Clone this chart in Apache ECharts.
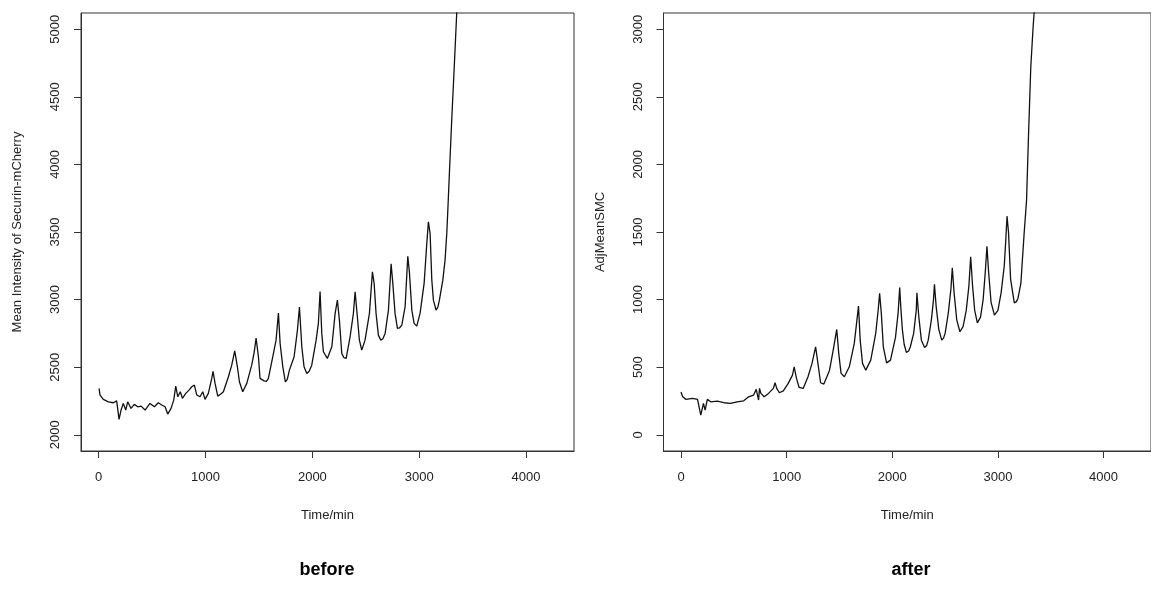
<!DOCTYPE html>
<html>
<head>
<meta charset="utf-8">
<script src="https://cdn.jsdelivr.net/npm/echarts@6/dist/echarts.min.js"></script>
<style>
  html, body { margin: 0; padding: 0; background: #fff; }
  #chart { width: 1151px; height: 596px; }
</style>
</head>
<body>
<div id="chart"></div>
<script>
// Securin-mCherry mean intensity over time, raw and background-adjusted.
const beforeTime = [3, 12, 43, 90, 137, 168, 190, 209, 230, 253, 271, 302, 333, 365, 396, 434, 480, 521, 558, 590,
  621, 646, 677, 702, 721, 740, 764, 783, 815, 845, 871, 895, 918, 948, 974, 995, 1026, 1058, 1070, 1089,
  1114, 1140, 1167, 1214, 1245, 1273, 1298, 1317, 1348, 1386, 1432, 1455, 1473, 1495, 1510, 1548, 1570, 1588, 1629, 1660,
  1682, 1698, 1723, 1747, 1765, 1785, 1829, 1860, 1879, 1901, 1922, 1948, 1970, 1994, 2035, 2056, 2072, 2088, 2103, 2140, 2182, 2213,
  2234, 2253, 2275, 2295, 2316, 2353, 2384, 2400, 2421, 2440, 2462, 2476, 2493, 2534, 2562, 2578, 2596, 2618, 2640, 2660, 2681, 2712, 2737,
  2753, 2774, 2796, 2815, 2837, 2868, 2893, 2908, 2931, 2952, 2977, 3008, 3046, 3071, 3086, 3102, 3118, 3133, 3158, 3175, 3189, 3221,
  3242, 3258, 3270, 3285, 3305, 3328, 3350, 3372];
const beforeValue = [2343, 2294, 2262, 2244, 2237, 2251, 2114, 2183, 2232, 2183, 2244, 2195, 2225, 2207, 2212, 2183, 2232, 2207, 2237, 2220,
  2207, 2153, 2195, 2256, 2360, 2281, 2318, 2269, 2306, 2330, 2355, 2367, 2294, 2281, 2318, 2262, 2306, 2417, 2470, 2380,
  2286, 2300, 2318, 2429, 2515, 2621, 2503, 2392, 2318, 2380, 2515, 2610, 2715, 2577, 2417, 2399, 2395, 2417, 2577, 2700,
  2900, 2676, 2503, 2392, 2410, 2478, 2577, 2774, 2945, 2651, 2503, 2454, 2470, 2515, 2700, 2824, 3060, 2750, 2614, 2565, 2651, 2898,
  2996, 2848, 2602, 2570, 2565, 2725, 2898, 3058, 2873, 2700, 2626, 2640, 2700, 2898, 3205, 3120, 2898, 2737, 2700, 2710, 2750, 2922, 3265,
  3120, 2898, 2787, 2790, 2811, 2947, 3320, 3205, 2922, 2824, 2804, 2898, 3120, 3415, 3575, 3489, 3144, 2996, 2922, 2945, 2996, 3144,
  3292, 3489, 3700, 3980, 4340, 4720, 5100, 5480];

const afterTime = [0, 15, 47, 109, 156, 187, 212, 228, 249, 281, 343, 406, 469, 530, 593, 640, 687, 712, 725, 734,
  743, 756, 787, 828, 874, 890, 906, 931, 968, 1015, 1055, 1071, 1093, 1118, 1156, 1202, 1240, 1274, 1296, 1321,
  1352, 1406, 1446, 1474, 1493, 1515, 1546, 1593, 1640, 1665, 1680, 1696, 1718, 1749, 1796, 1843, 1866, 1880, 1896, 1915,
  1946, 1983, 2030, 2055, 2070, 2080, 2095, 2112, 2133, 2155, 2171, 2202, 2227, 2233, 2250, 2275, 2306, 2325, 2340, 2370, 2390, 2399, 2415,
  2440, 2468, 2485, 2500, 2530, 2555, 2568, 2585, 2610, 2640, 2655, 2670, 2700, 2725, 2742, 2760, 2780, 2805, 2820, 2835, 2860, 2880, 2896,
  2912, 2935, 2967, 2985, 3000, 3030, 3060, 3075, 3086, 3100, 3120, 3155, 3175, 3190, 3217, 3248, 3271, 3290, 3311, 3333, 3342, 3360];
const afterValue = [317, 281, 262, 269, 262, 146, 232, 183, 262, 244, 249, 237, 232, 244, 251, 281, 294, 336, 350, 257,
  343, 306, 281, 306, 343, 385, 343, 311, 325, 380, 441, 503, 417, 350, 343, 429, 528, 651, 528, 385,
  375, 478, 651, 779, 602, 454, 429, 503, 676, 848, 952, 700, 528, 478, 552, 750, 920, 1046, 898, 651,
  532, 552, 720, 900, 1090, 950, 780, 670, 610, 620, 651, 750, 922, 1050, 880, 700, 646, 660, 700, 850, 1000, 1114, 950,
  780, 700, 715, 750, 900, 1080, 1235, 1050, 850, 762, 775, 800, 920, 1100, 1316, 1100, 920, 828, 840, 870, 1000, 1200, 1395,
  1200, 980, 885, 895, 920, 1050, 1250, 1450, 1617, 1500, 1150, 976, 985, 1010, 1120, 1489, 1736, 2229, 2721, 3017, 3116, 3400];

const timeTicks = [0, 1000, 2000, 3000, 4000];
const beforeTicks = [2000, 2500, 3000, 3500, 4000, 4500, 5000];
const afterTicks = [0, 500, 1000, 1500, 2000, 2500, 3000];

const FONT = 'Liberation Sans, Arial, sans-serif';
const INK = '#222';
const plain = v => String(v);

function pairs(xs, ys) {
  return xs.map((x, i) => [x, ys[i]]);
}

function xAxisFor(gridIndex) {
  return {
    gridIndex, type: 'value', min: -166, max: 4449,
    axisLine: { show: true, onZero: false, lineStyle: { color: '#333', width: 1 } },
    axisTick: { show: true, length: 7, inside: false, customValues: timeTicks, lineStyle: { color: '#333', width: 1 } },
    axisLabel: { customValues: timeTicks, formatter: plain, margin: 20, fontSize: 13, color: INK, fontFamily: FONT },
    splitLine: { show: false },
    name: 'Time/min', nameLocation: 'middle', nameGap: 58,
    nameTextStyle: { fontSize: 13, color: INK, fontFamily: FONT }
  };
}

function yAxisFor(gridIndex, min, max, ticks, title) {
  return {
    gridIndex, type: 'value', min, max,
    axisLine: { show: true, onZero: false, lineStyle: { color: '#333', width: 1 } },
    axisTick: { show: true, length: 7, inside: false, customValues: ticks, lineStyle: { color: '#333', width: 1 } },
    axisLabel: { customValues: ticks, formatter: plain, rotate: 90, margin: 19, fontSize: 13, color: INK, fontFamily: FONT },
    splitLine: { show: false },
    name: title, nameLocation: 'middle', nameRotate: 90, nameGap: 57,
    nameTextStyle: { fontSize: 13, color: INK, fontFamily: FONT }
  };
}

const chart = echarts.init(document.getElementById('chart'), null, { renderer: 'canvas' });
chart.setOption({
  animation: false,
  backgroundColor: '#fff',
  grid: [
    { left: 81, top: 13, width: 493, height: 438, show: true, borderColor: '#333', borderWidth: 1, backgroundColor: 'transparent' },
    { left: 663.5, top: 13, width: 493, height: 438, show: true, borderColor: '#333', borderWidth: 1, backgroundColor: 'transparent' }
  ],
  xAxis: [xAxisFor(0), xAxisFor(1)],
  yAxis: [
    yAxisFor(0, 1880, 5120, beforeTicks, 'Mean Intensity of Securin-mCherry'),
    yAxisFor(1, -120, 3120, afterTicks, 'AdjMeanSMC')
  ],
  series: [
    { type: 'line', xAxisIndex: 0, yAxisIndex: 0, data: pairs(beforeTime, beforeValue), showSymbol: false, clip: true,
      lineStyle: { color: '#111', width: 1.3 } },
    { type: 'line', xAxisIndex: 1, yAxisIndex: 1, data: pairs(afterTime, afterValue), showSymbol: false, clip: true,
      lineStyle: { color: '#111', width: 1.3 } }
  ],
  graphic: [
    { type: 'text', x: 327, y: 570, style: { text: 'before', x: 0, y: 0, align: 'center', verticalAlign: 'middle', font: 'bold 18px ' + FONT, fill: '#000' } },
    { type: 'text', x: 911, y: 570, style: { text: 'after', x: 0, y: 0, align: 'center', verticalAlign: 'middle', font: 'bold 18px ' + FONT, fill: '#000' } }
  ]
});
</script>
</body>
</html>
